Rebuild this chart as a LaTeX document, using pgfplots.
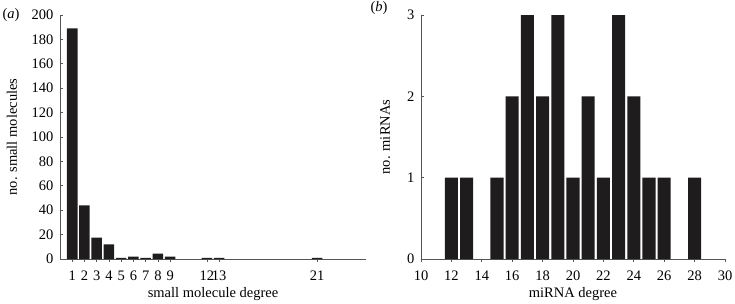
\documentclass[border=0pt]{standalone}
\usepackage{fontspec}
\setmainfont{Liberation Serif}
\usepackage{pgfplots}
\pgfplotsset{compat=1.18}
\definecolor{barc}{HTML}{1E1C1D}
\definecolor{axc}{HTML}{555555}
\newcommand{\ff}{\fontsize{14.5}{17}\selectfont}
\pgfplotsset{
  myax/.style={
    scale only axis,
    axis x line*=bottom, axis y line*=left,
    tick align=inside, major tick length=3pt,
    axis line style={axc, line width=0.7pt},
    every tick/.style={axc, line width=0.7pt},
    /pgf/number format/assume math mode=true,
    tick label style={font=\ff, text=black},
    label style={font=\ff},
    xticklabel style={yshift=-5pt},
    yticklabel style={xshift=-3pt},
    ybar, bar width=0.86,
    xlabel style={at={(axis description cs:0.5,-0.143)}, anchor=center},
    clip=false,
  }
}
\begin{document}
\begin{tikzpicture}[x=1pt,y=1pt]
\useasboundingbox (0,0) rectangle (735,303);
\begin{axis}[myax,
  at={(60pt,44pt)}, anchor=south west,
  width=306pt, height=244pt,
  xmin=0, xmax=25, ymin=0, ymax=200,
  xtick={1,2,3,4,5,6,7,8,9,12,13,21},
  ytick={0,20,40,60,80,100,120,140,160,180,200},
  xlabel={small molecule degree},
  ylabel={no. small molecules},
  ylabel style={at={(axis description cs:-0.157,0.5)}, anchor=center},
]
\addplot[fill=barc, draw=none] coordinates {
  (1,189) (2,44) (3,17.5) (4,12) (5,1) (6,2) (7,1) (8,4.5) (9,2)
  (12,1) (13,1) (21,1)
};
\node[font=\ff] at (axis description cs:-0.16,1.0) {(\textit{a})};
\end{axis}
\begin{axis}[myax,
  at={(421pt,44pt)}, anchor=south west,
  width=304pt, height=244pt,
  xmin=10, xmax=30, ymin=0, ymax=3,
  xtick={10,12,...,30},
  ytick={0,1,2,3},
  xlabel={miRNA degree},
  ylabel={no. miRNAs},
  ylabel style={at={(axis description cs:-0.118,0.5)}, anchor=center},
]
\addplot[fill=barc, draw=none] coordinates {
  (12,1) (13,1) (15,1) (16,2) (17,3) (18,2) (19,3) (20,1) (21,2)
  (22,1) (23,3) (24,2) (25,1) (26,1) (28,1)
};
\node[font=\ff] at (axis description cs:-0.138,1.03) {(\textit{b})};
\end{axis}
\end{tikzpicture}
\end{document}
